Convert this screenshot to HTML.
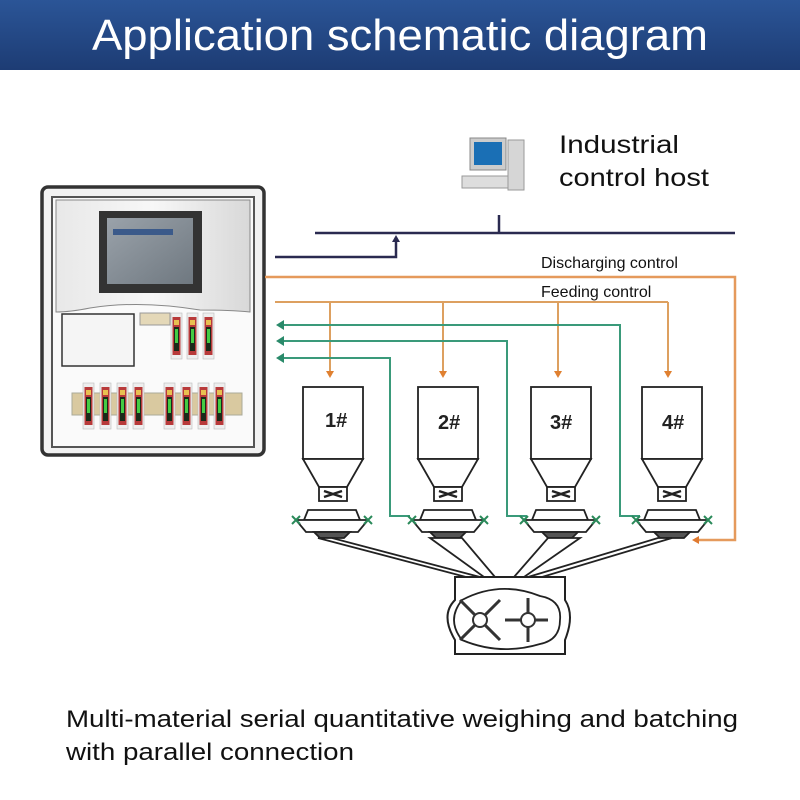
<!DOCTYPE html>
<html><head><meta charset="utf-8"><style>
body{margin:0;width:800px;height:800px;background:#fff;overflow:hidden}
svg{display:block}
</style></head><body>
<svg width="800" height="800" viewBox="0 0 800 800" xmlns="http://www.w3.org/2000/svg" font-family="Liberation Sans, sans-serif">
<defs>
<linearGradient id="tb" x1="0" y1="0" x2="0" y2="1"><stop offset="0" stop-color="#2b5597"/><stop offset="1" stop-color="#1d3c74"/></linearGradient>
<linearGradient id="pan" x1="0" y1="0" x2="1" y2="0"><stop offset="0" stop-color="#e8e8e8"/><stop offset=".5" stop-color="#f7f7f7"/><stop offset="1" stop-color="#d8d8d8"/></linearGradient>
<linearGradient id="scr" x1="0" y1="0" x2="1" y2="1"><stop offset="0" stop-color="#9aa2aa"/><stop offset="1" stop-color="#6f7880"/></linearGradient>
<g id="mod"><rect x="0" y="0" width="11" height="46" fill="#eee" stroke="#bbb" stroke-width=".6"/><rect x="1.5" y="4" width="8" height="38" fill="#b83a3a"/><rect x="3" y="7" width="5" height="5" fill="#e8c050"/><rect x="3" y="14" width="5" height="24" fill="#1a2a1a"/><rect x="4" y="16" width="3" height="14" fill="#4c4"/></g>
<g id="hop" fill="#fff" stroke="#222" stroke-width="1.8">
<rect x="0" y="0" width="60" height="72"/><path d="M0 72 L60 72 L44 100 L16 100 Z"/><rect x="16" y="100" width="28" height="14"/>
<path d="M21 104 L39 110 M21 110 L39 104" stroke-width="2.5"/>
</g>
<g id="scale" fill="#fff" stroke="#222" stroke-width="1.8">
<path d="M6 0 L54 0 L58 10 L2 10 Z"/><path d="M-6 10 L66 10 L56 22 L4 22 Z"/><path d="M12 22 L48 22 L42 28 L18 28 Z" fill="#555"/>
<path d="M-10 6 L-2 14 M-10 14 L-2 6 M62 6 L70 14 M62 14 L70 6" stroke="#2a8a5a" stroke-width="2"/>
</g>
</defs>
<rect x="0" y="0" width="800" height="70" fill="url(#tb)"/>
<text x="400" y="50" font-size="44" fill="#fff" text-anchor="middle" textLength="616" lengthAdjust="spacingAndGlyphs">Application schematic diagram</text>

<rect x="470" y="138" width="36" height="32" fill="#ccc" stroke="#888"/>
<rect x="474" y="142" width="28" height="23" fill="#1a6fb5"/>
<rect x="508" y="140" width="16" height="50" fill="#d6d6d6" stroke="#999"/>
<rect x="462" y="176" width="46" height="12" fill="#ddd" stroke="#999"/>
<text x="559" y="153" font-size="25" fill="#111" textLength="120" lengthAdjust="spacingAndGlyphs">Industrial</text>
<text x="559" y="186" font-size="25" fill="#111" textLength="150" lengthAdjust="spacingAndGlyphs">control host</text>

<rect x="42" y="187" width="222" height="268" rx="6" fill="#f2f2f2" stroke="#333" stroke-width="3.5"/>
<rect x="52" y="197" width="202" height="250" fill="#fafafa" stroke="#555" stroke-width="2"/>
<path d="M56 200 L250 200 L250 312 Q230 310 200 310 Q140 300 90 308 Q70 312 56 312 Z" fill="url(#pan)" stroke="#888"/>
<rect x="99" y="211" width="103" height="82" fill="#333"/>
<rect x="107" y="218" width="86" height="66" fill="url(#scr)"/>
<rect x="113" y="229" width="60" height="6" fill="#3b5a8a"/>
<rect x="62" y="314" width="72" height="52" fill="#f5f5f5" stroke="#333" stroke-width="1.5"/>
<rect x="140" y="313" width="30" height="12" fill="#e4d8b8" stroke="#999"/>
<rect x="72" y="393" width="170" height="22" fill="#d9c9a0" stroke="#aa9"/>
<use href="#mod" x="171" y="313"/><use href="#mod" x="187" y="313"/><use href="#mod" x="203" y="313"/>
<use href="#mod" x="83" y="383"/><use href="#mod" x="100" y="383"/><use href="#mod" x="117" y="383"/><use href="#mod" x="133" y="383"/>
<use href="#mod" x="164" y="383"/><use href="#mod" x="181" y="383"/><use href="#mod" x="198" y="383"/><use href="#mod" x="214" y="383"/>

<g fill="none" stroke="#2a2a50" stroke-width="2.5">
<path d="M315 233 L735 233"/><path d="M499 215 L499 233"/><path d="M275 257 L396 257 L396 240"/>
</g>
<path d="M392 242 L396 235 L400 242 Z" fill="#2a2a50"/>

<path d="M265 277 L735 277 L735 540 L697 540" fill="none" stroke="#e59a5c" stroke-width="2.5"/>
<path d="M699 536 L692 540 L699 544 Z" fill="#e07a30"/>
<text x="541" y="268" font-size="16" fill="#111">Discharging control</text>
<text x="541" y="297" font-size="16" fill="#111">Feeding control</text>

<g fill="none" stroke="#dda060" stroke-width="2">
<path d="M275 302 L668 302"/><path d="M330 302 L330 372 M443 302 L443 372 M558 302 L558 372 M668 302 L668 372"/>
</g>
<g fill="#e08030"><path d="M326 371 L334 371 L330 378Z"/><path d="M439 371 L447 371 L443 378Z"/><path d="M554 371 L562 371 L558 378Z"/><path d="M664 371 L672 371 L668 378Z"/></g>

<g fill="none" stroke="#3a9a7a" stroke-width="2">
<path d="M280 325 L620 325 L620 516 L640 516"/>
<path d="M280 341 L507 341 L507 516 L527 516"/>
<path d="M280 358 L390 358 L390 516 L410 516"/>
</g>
<g fill="#2a8a6a"><path d="M284 320 L276 325 L284 330Z"/><path d="M284 336 L276 341 L284 346Z"/><path d="M284 353 L276 358 L284 363Z"/></g>

<use href="#hop" x="303" y="387"/><use href="#hop" x="418" y="387"/><use href="#hop" x="531" y="387"/><use href="#hop" x="642" y="387"/>
<g font-size="20" font-weight="bold" fill="#222">
<text x="325" y="427">1#</text><text x="438" y="429">2#</text><text x="550" y="429">3#</text><text x="662" y="429">4#</text>
</g>
<use href="#scale" x="302" y="510"/><use href="#scale" x="418" y="510"/><use href="#scale" x="530" y="510"/><use href="#scale" x="642" y="510"/>

<g fill="#fff" stroke="#222" stroke-width="1.8">
<path d="M318 538 L332 538 L480 577 L466 577 Z"/>
<path d="M430 538 L462 538 L495 577 L484 577 Z"/>
<path d="M548 538 L580 538 L524 577 L514 577 Z"/>
<path d="M658 538 L672 538 L542 577 L528 577 Z"/>
</g>
<path d="M455 577 L565 577 L565 600 Q575 615 565 640 L565 654 L455 654 L455 640 Q440 615 455 600 Z" fill="#fff" stroke="#222" stroke-width="2"/>
<path d="M462 600 Q500 580 540 596 Q562 600 560 620 Q560 640 540 644 Q500 656 462 640 Q446 620 462 600 Z" fill="#fff" stroke="#222" stroke-width="1.8"/>
<g stroke="#333" stroke-width="3"><path d="M460 600 L500 640 M460 640 L500 600 M505 620 L548 620 M528 598 L528 642"/></g>
<circle cx="480" cy="620" r="7" fill="#fff" stroke="#333" stroke-width="2"/>
<circle cx="528" cy="620" r="7" fill="#fff" stroke="#333" stroke-width="2"/>

<text x="66" y="727" font-size="24" fill="#111" textLength="672" lengthAdjust="spacingAndGlyphs">Multi-material serial quantitative weighing and batching</text>
<text x="66" y="760" font-size="24" fill="#111" textLength="288" lengthAdjust="spacingAndGlyphs">with parallel connection</text>
</svg>
</body></html>
